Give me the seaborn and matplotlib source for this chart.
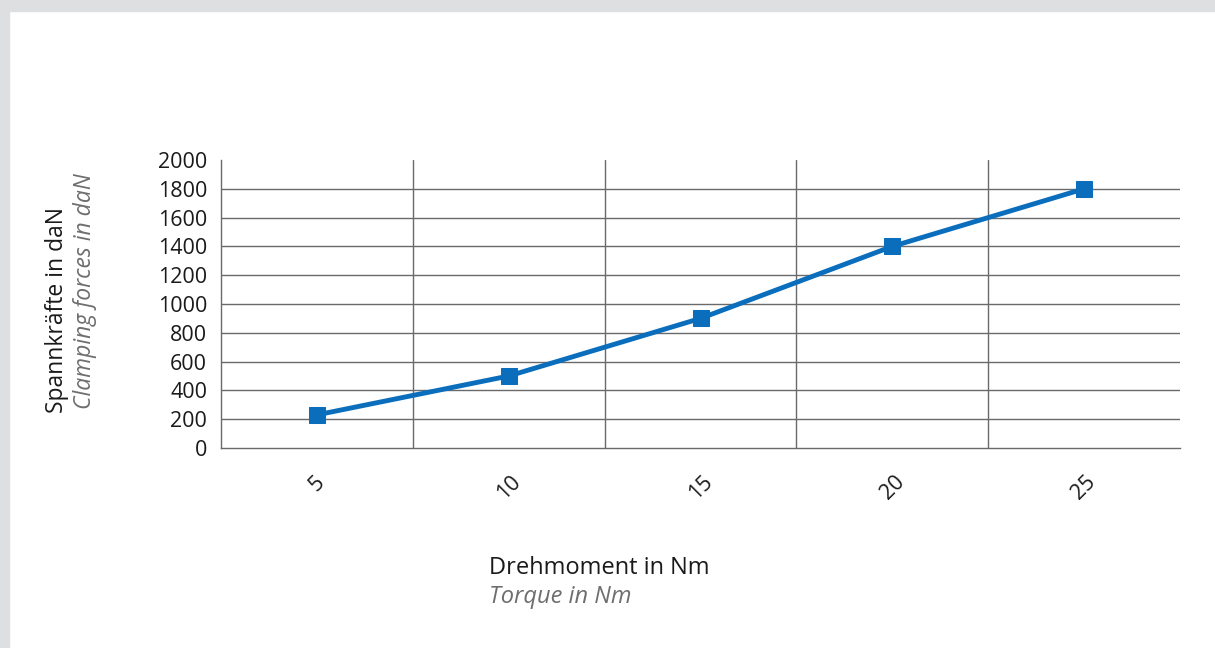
import matplotlib
matplotlib.use("Agg")
import matplotlib.pyplot as plt
import seaborn as sns
import pandas as pd
import numpy as np
from matplotlib.patches import Rectangle
from matplotlib.ticker import FixedLocator

# Daten: Drehmoment (Nm) und Spannkräfte (daN)
drehmoment = ["5", "10", "15", "20", "25"]
spannkraft = [230, 500, 900, 1400, 1800]
y_ticks = [0, 200, 400, 600, 800, 1000, 1200, 1400, 1600, 1800, 2000]

df = pd.DataFrame({"Drehmoment": drehmoment, "Spannkraft": spannkraft})

sns.set_style("white")
plt.rcParams["font.family"] = ["Open Sans", "DejaVu Sans"]

blau = "#0a6ebd"
grau = "#6e6e6e"
linie = "#6a6a6a"

fig = plt.figure(figsize=(12.15, 6.48), dpi=100)
fig.patch.set_facecolor("white")

# hellgrauer Rahmen oben und links
fig.patches.append(Rectangle((0, 1 - 11 / 648), 1, 11 / 648, transform=fig.transFigure,
                             color="#dedfe1", zorder=0))
fig.patches.append(Rectangle((0, 0), 9 / 1215, 1, transform=fig.transFigure,
                             color="#dedfe1", zorder=0))

ax = fig.add_axes([221 / 1215, 1 - 448 / 648, (1180 - 221) / 1215, (448 - 160) / 648])

sns.lineplot(data=df, x="Drehmoment", y="Spannkraft", ax=ax, color=blau,
             linewidth=3.5, marker="s", markersize=12, markeredgecolor=blau,
             sort=False, zorder=5)

n = len(drehmoment)
ax.set_xlim(-0.5, n - 0.5)
ax.set_ylim(0, 2000)
ax.set_yticks(y_ticks)
ax.set_yticklabels([str(v) for v in y_ticks], fontsize=15.5, color="#1a1a1a")

ax.set_xticks(range(n))
ax.set_xticklabels(drehmoment, rotation=45, fontsize=15.5, color="#1a1a1a",
                   ha="center", va="top")
ax.xaxis.set_minor_locator(FixedLocator(np.arange(-0.5, n, 1.0)))
ax.tick_params(axis="x", which="major", length=0, pad=17)
ax.tick_params(axis="x", which="minor", length=7, width=1, color=linie, direction="out")
ax.tick_params(axis="y", which="major", length=7, width=1, color=linie, direction="out", pad=3)

# Gitterlinien
for v in y_ticks[1:-1]:
    ax.axhline(v, color=linie, linewidth=1, zorder=1)
for b in np.arange(0.5, n - 1, 1.0):
    ax.axvline(b, color=linie, linewidth=1, zorder=1)

for s in ["top", "right"]:
    ax.spines[s].set_visible(False)
for s in ["left", "bottom"]:
    ax.spines[s].set_color(linie)
    ax.spines[s].set_linewidth(1)

ax.set_xlabel("")
ax.set_ylabel("")

# Achsentitel zweisprachig
fig.text(57 / 1215, 1 - 413 / 648, "Spannkräfte in daN", rotation=90, fontsize=16.5,
         color="#1a1a1a", ha="center", va="bottom")
fig.text(85 / 1215, 1 - 409 / 648, "Clamping forces in daN", rotation=90, fontsize=16.5,
         color=grau, style="italic", ha="center", va="bottom")
fig.text(489 / 1215, 1 - 568 / 648, "Drehmoment in Nm", fontsize=17,
         color="#1a1a1a", ha="left", va="center")
fig.text(489 / 1215, 1 - 597 / 648, "Torque in Nm", fontsize=17,
         color=grau, style="italic", ha="left", va="center")

fig.savefig("out.png", dpi=100, facecolor=fig.get_facecolor())
